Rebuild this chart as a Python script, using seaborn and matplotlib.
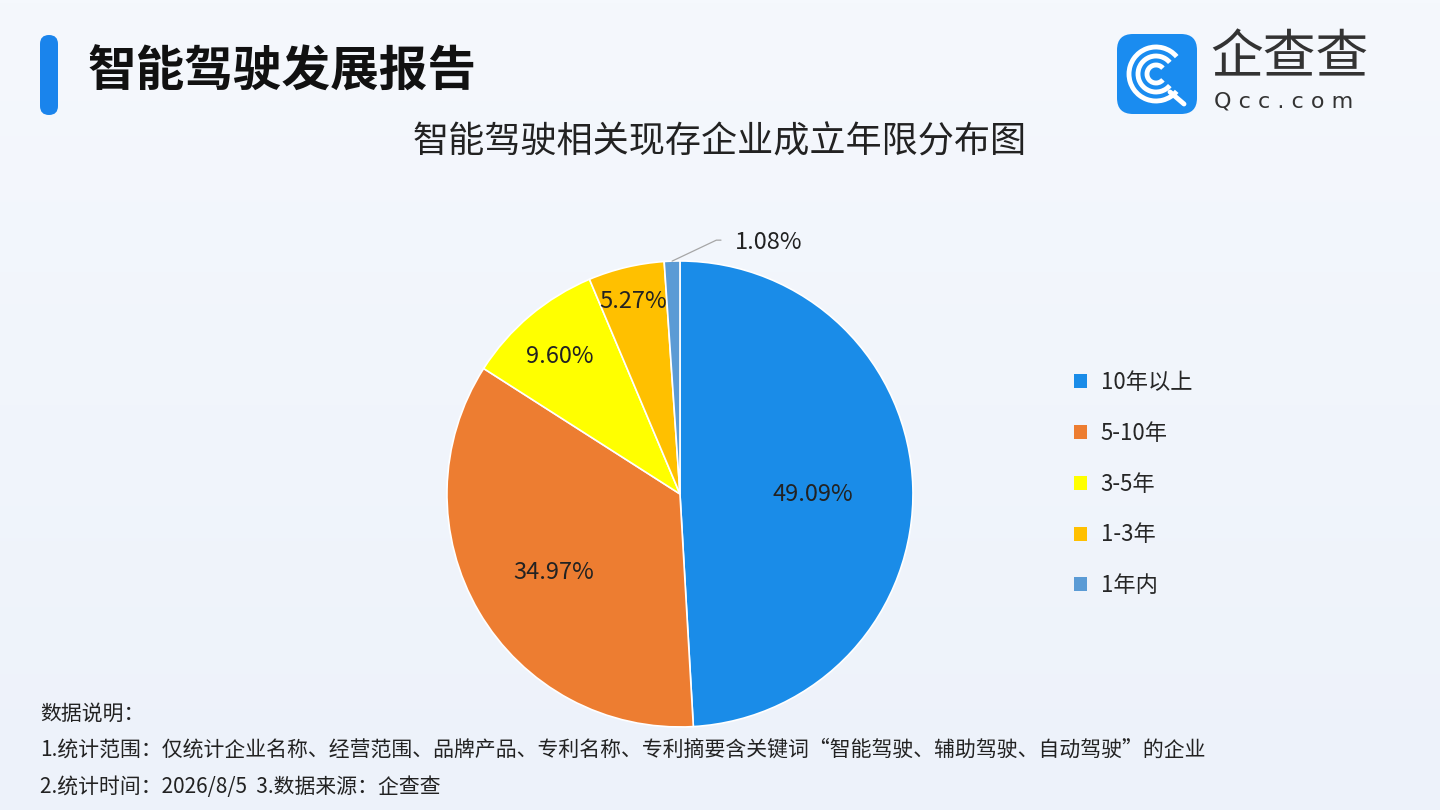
import numpy as np
import matplotlib.pyplot as plt
import seaborn as sns
from matplotlib.patches import FancyBboxPatch, Arc, Patch

categories = ['10年以上', '5-10年', '3-5年', '1-3年', '1年内']
shares = [49.09, 34.97, 9.60, 5.27, 1.08]
colors = ['#1a8ce8', '#ed7d31', '#ffff00', '#ffc000', '#5b9bd5']

header = '智能驾驶发展报告'
title = '智能驾驶相关现存企业成立年限分布图'
notes = ['数据说明：',
         '1.统计范围：仅统计企业名称、经营范围、品牌产品、专利名称、专利摘要含关键词“智能驾驶、辅助驾驶、自动驾驶”的企业',
         '2.统计时间：2026/8/5  3.数据来源：企查查']

sns.set_theme(style='white')
plt.rcParams['font.family'] = ['Noto Sans CJK SC', 'DejaVu Sans']

fig = plt.figure(figsize=(14.4, 8.1), dpi=100)
fig.patch.set_facecolor('#f1f5fc')

# background layer in pixel coordinates
bg = fig.add_axes([0, 0, 1, 1], zorder=0)
bg.set_xlim(0, 1440)
bg.set_ylim(810, 0)
bg.axis('off')
grad = np.linspace(0, 1, 256).reshape(-1, 1)
bg.imshow(grad, extent=[0, 1440, 810, 0], cmap=sns.blend_palette(['#f5f8fd', '#edf2fa'], as_cmap=True),
          aspect='auto', zorder=0)

# header bar + title
bg.add_patch(FancyBboxPatch((40, 35), 18, 80, boxstyle='round,pad=0,rounding_size=9',
                            fc='#1a84ec', ec='none', zorder=2))
bg.text(88, 72, header, fontsize=35, fontweight='bold', color='#111111', va='center', ha='left', zorder=3)
bg.text(720, 143, title, fontsize=26, color='#222222', va='center', ha='center', zorder=3)

# logo
bg.add_patch(FancyBboxPatch((1117, 34), 80, 80, boxstyle='round,pad=0,rounding_size=16',
                            fc='#1a8cf0', ec='none', zorder=2))
for r in (27, 18, 9):
    bg.add_patch(Arc((1156, 74), 2 * r, 2 * r, theta1=40, theta2=320, color='white', lw=3.5, zorder=3))
bg.plot([1170, 1184], [92, 104], color='white', lw=3.5, solid_capstyle='round', zorder=3)
bg.text(1210, 58, '企查查', fontsize=38, color='#333333', va='center', ha='left', zorder=3)
bg.text(1214, 102, 'Q c c . c o m', fontsize=16, color='#333333', va='center', ha='left',
        family='DejaVu Sans', zorder=3)

# footer notes
for y, line in zip((714, 750, 787), notes):
    bg.text(40, y, line, fontsize=15, color='#222222', va='center', ha='left', zorder=3)

# pie
ax = fig.add_axes([0.3104, 0.1025, 0.3236, 0.5753], zorder=2)
wedges, texts, autotexts = ax.pie(shares, colors=colors, startangle=90, counterclock=False,
                                  autopct='%.2f%%', pctdistance=0.6,
                                  wedgeprops=dict(edgecolor='white', linewidth=1.2),
                                  textprops=dict(fontsize=17, color='#222222'))
ax.set_xlim(-1, 1)
ax.set_ylim(-1, 1)
ax.set_aspect('equal')
ax.axis('off')

label_r = [0.57, 0.63, 0.8, 0.87]
for w, t, r in zip(wedges, autotexts, label_r):
    mid = np.deg2rad((w.theta1 + w.theta2) / 2)
    t.set_position((r * np.cos(mid), r * np.sin(mid) - 0.02))

# small slice: label outside with leader line
w = wedges[-1]
autotexts[-1].set_visible(False)
mid = np.deg2rad((w.theta1 + w.theta2) / 2)
x0, y0 = np.cos(mid), np.sin(mid)
ax.plot([x0, x0 + 0.19, x0 + 0.21], [y0, y0 + 0.09, y0 + 0.09], color='#a6a6a6', lw=0.9, clip_on=False)
ax.text(x0 + 0.27, y0 + 0.08, f'{shares[-1]:.2f}%', fontsize=17, color='#222222', va='center', ha='left')

handles = [Patch(facecolor=c, edgecolor='none') for c in colors]
fig.legend(handles, categories, loc='upper left', bbox_to_anchor=(1063 / 1440, 1 - 360 / 810),
           frameon=False, fontsize=16, handlelength=0.6, handleheight=0.6, handletextpad=0.6,
           labelspacing=1.25, borderpad=0)

fig.savefig('out.png', dpi=100, facecolor=fig.get_facecolor())
